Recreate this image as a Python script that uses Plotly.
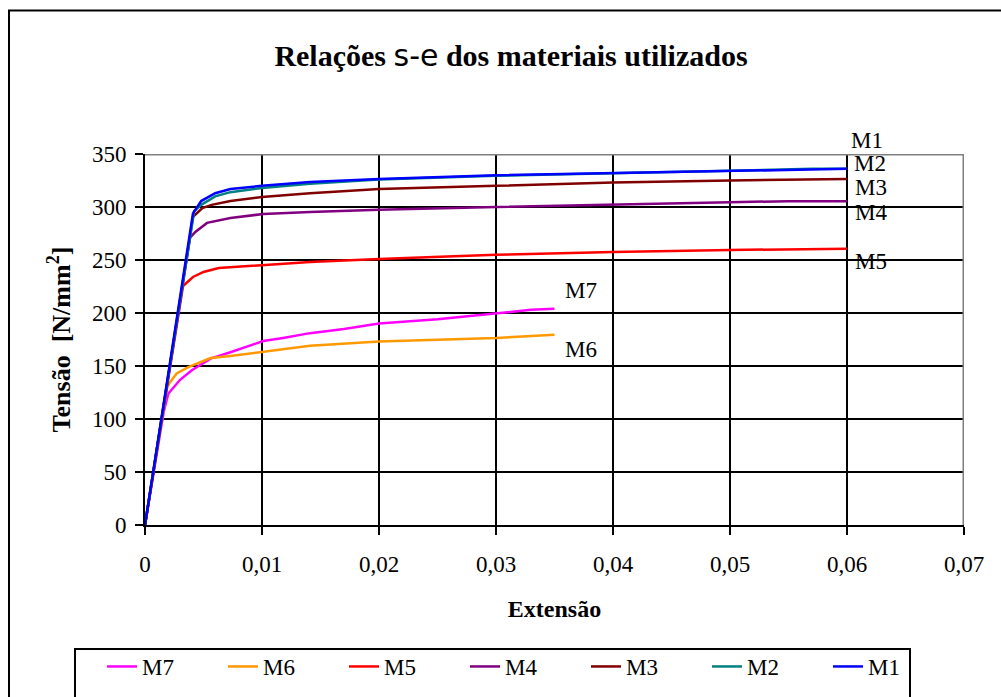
import plotly.graph_objects as go

# ---------------- data ----------------
series_names = ["M7", "M6", "M5", "M4", "M3", "M2", "M1"]
series_colors = ["#FF00FF", "#FF9900", "#FF0000", "#800080", "#800000", "#008080", "#0000FF"]

m7_strain = [0, 0.0016, 0.0020, 0.0026, 0.0030, 0.0040, 0.0056, 0.0073, 0.0101, 0.0118, 0.0141, 0.017, 0.020, 0.025, 0.030, 0.033, 0.035]
m7_stress = [0, 107, 124, 132, 137, 146, 157, 163, 173.5, 176.5, 181, 185, 190, 194, 199.5, 203, 204]

m6_strain = [0, 0.0019, 0.0021, 0.0027, 0.0037, 0.0056, 0.0073, 0.0100, 0.0141, 0.020, 0.025, 0.030, 0.035]
m6_stress = [0, 130, 134, 143, 149, 157.5, 159.5, 163, 169, 173, 174.5, 176.5, 179.5]

m5_strain = [0, 0.00325, 0.0041, 0.0050, 0.0063, 0.0100, 0.0141, 0.020, 0.030, 0.040, 0.050, 0.060]
m5_stress = [0, 225.5, 234, 238.7, 242.5, 245, 248, 251, 255, 257.5, 259.5, 260.5]

m4_strain = [0, 0.00385, 0.0043, 0.0053, 0.0073, 0.0101, 0.0141, 0.020, 0.030, 0.040, 0.050, 0.055, 0.060]
m4_stress = [0, 271, 276.4, 285, 289.6, 293.4, 295.3, 297.5, 300, 302.5, 304.5, 305.5, 305.5]

m3_strain = [0, 0.0041, 0.0049, 0.0057, 0.0073, 0.0100, 0.0141, 0.020, 0.030, 0.040, 0.050, 0.060]
m3_stress = [0, 290.6, 299, 302, 305.7, 309.4, 313, 317, 320, 323, 325, 326.5]

m2_strain = [0, 0.0042, 0.0048, 0.0060, 0.0073, 0.0100, 0.0141, 0.020, 0.030, 0.040, 0.050, 0.057, 0.060]
m2_stress = [0, 296, 302, 310, 314, 318, 322, 326, 329.5, 332, 334, 336, 336]

m1_strain = [0, 0.0041, 0.0048, 0.0060, 0.0073, 0.0100, 0.0141, 0.020, 0.030, 0.040, 0.050, 0.057, 0.060]
m1_stress = [0, 294, 305.6, 313, 317, 320, 323.6, 326.5, 330, 332, 334, 336, 336]

series_x = [m7_strain, m6_strain, m5_strain, m4_strain, m3_strain, m2_strain, m1_strain]
series_y = [m7_stress, m6_stress, m5_stress, m4_stress, m3_stress, m2_stress, m1_stress]

# end-of-curve labels: (text, x [strain], y [stress])
label_text = ["M1", "M2", "M3", "M4", "M5", "M7", "M6"]
label_x = [0.0602, 0.0604, 0.0605, 0.0605, 0.0605, 0.0357, 0.0357]
label_y = [363, 341.5, 318, 295, 249, 221.5, 166]

x_tickvals = [0, 0.01, 0.02, 0.03, 0.04, 0.05, 0.06, 0.07]
x_ticktext = ["0", "0,01", "0,02", "0,03", "0,04", "0,05", "0,06", "0,07"]
y_tickvals = [0, 50, 100, 150, 200, 250, 300, 350]
X_MAX, Y_MAX = 0.07, 350

# ---------------- layout geometry ----------------
W, H = 1001, 697
ML, MR, MT, MB = 145, 37, 154, 172
PW, PH = W - ML - MR, H - MT - MB


def px2paper_x(px):
    return (px - ML) / PW


def px2paper_y(py):
    return (H - MB - py) / PH


SERIF = "Liberation Serif, Times New Roman, serif"

fig = go.Figure()
for name, color, xs, ys in zip(series_names, series_colors, series_x, series_y):
    fig.add_trace(go.Scatter(x=xs, y=ys, mode="lines", name=name,
                             line=dict(color=color, width=2.5)))

for t, lx, ly in zip(label_text, label_x, label_y):
    fig.add_annotation(x=lx, y=ly / Y_MAX, xref="x", yref="y domain", text=t, showarrow=False,
                       xanchor="left", yanchor="middle",
                       font=dict(family=SERIF, size=23, color="black"))

shapes = [
    # gray plot frame (top and right)
    dict(type="line", xref="x", yref="y", x0=0, x1=X_MAX, y0=Y_MAX, y1=Y_MAX,
         line=dict(color="#808080", width=3), layer="above"),
    dict(type="line", xref="x", yref="y", x0=X_MAX, x1=X_MAX, y0=0, y1=Y_MAX,
         line=dict(color="#808080", width=3), layer="above"),
    # outer chart border (top and left visible)
    dict(type="line", xref="paper", yref="paper", x0=px2paper_x(8), x1=px2paper_x(1001),
         y0=px2paper_y(10.5), y1=px2paper_y(10.5), line=dict(color="black", width=2)),
    dict(type="line", xref="paper", yref="paper", x0=px2paper_x(9), x1=px2paper_x(9),
         y0=px2paper_y(10), y1=px2paper_y(700), line=dict(color="black", width=2)),
    # legend box
    dict(type="rect", xref="paper", yref="paper", x0=px2paper_x(75), x1=px2paper_x(910),
         y0=px2paper_y(649), y1=px2paper_y(720), line=dict(color="black", width=2),
         fillcolor="rgba(0,0,0,0)"),
]

fig.update_layout(
    width=W, height=H,
    margin=dict(l=ML, r=MR, t=MT, b=MB, autoexpand=False),
    paper_bgcolor="white", plot_bgcolor="white",
    title=dict(
        text="Relações <span style=\"font-family:DejaVu Sans;font-weight:normal\">s-e</span> dos materiais utilizados",
        x=511 / W, xanchor="center", y=1 - 55 / H, yanchor="middle",
        font=dict(family=SERIF, size=30, color="black", weight="bold"),
    ),
    xaxis=dict(
        range=[0, X_MAX], tickvals=x_tickvals, ticktext=x_ticktext,
        showgrid=True, gridcolor="black", gridwidth=2,
        showline=True, linecolor="black", linewidth=2,
        ticks="outside", ticklen=8, tickwidth=2, tickcolor="black",
        ticklabelstandoff=9,
        tickfont=dict(family=SERIF, size=23, color="black"),
        zeroline=False,
        title=dict(text="<b>Extensão</b>", font=dict(family=SERIF, size=24, color="black"), standoff=25),
    ),
    yaxis=dict(
        range=[0, Y_MAX], tickvals=y_tickvals,
        showgrid=True, gridcolor="black", gridwidth=2,
        showline=True, linecolor="black", linewidth=2,
        ticks="outside", ticklen=8, tickwidth=2, tickcolor="black",
        ticklabelstandoff=4,
        tickfont=dict(family=SERIF, size=23, color="black"),
        zeroline=False,
        title=dict(text="<b>Tensão  [N/mm<sup>2</sup>]</b>", font=dict(family=SERIF, size=26, color="black"), standoff=14),
    ),
    legend=dict(
        orientation="h", x=px2paper_x(102), xanchor="left", y=px2paper_y(645), yanchor="top",
        font=dict(family=SERIF, size=23, color="black"),
        bgcolor="rgba(0,0,0,0)", borderwidth=0,
        entrywidth=76, entrywidthmode="pixels", traceorder="normal",
    ),
    shapes=shapes,
    showlegend=True,
)

fig.write_html("out.html")
